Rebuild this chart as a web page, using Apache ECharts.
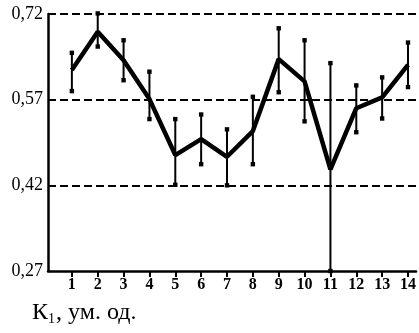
<!DOCTYPE html>
<html>
<head>
<meta charset="utf-8">
<script src="https://cdn.jsdelivr.net/npm/echarts@6/dist/echarts.min.js"></script>
<style>
  html, body { margin: 0; padding: 0; background: #fff; }
  #chart { width: 419px; height: 333px; }
</style>
</head>
<body>
<div id="chart"></div>
<script>
// Sample numbers along the x axis
const samples = [1, 2, 3, 4, 5, 6, 7, 8, 9, 10, 11, 12, 13, 14];
// Mean K1 per sample
const means = [0.622, 0.689, 0.639, 0.571, 0.473, 0.501, 0.470, 0.515, 0.641, 0.602, 0.448, 0.555, 0.574, 0.631];
// Lower / upper ends of the error bars
const lower = [0.585, 0.663, 0.604, 0.536, 0.421, 0.457, 0.420, 0.457, 0.583, 0.532, 0.270, 0.513, 0.537, 0.592];
const upper = [0.652, 0.721, 0.674, 0.619, 0.536, 0.544, 0.518, 0.575, 0.695, 0.674, 0.634, 0.595, 0.609, 0.670];
// Y axis ticks and gridlines
const yTicks = [0.27, 0.42, 0.57, 0.72];
// Axis title pieces: letter, subscript, rest
const titleMain = 'К';
const titleSub = '1';
const titleRest = ', ум. од.';

const chart = echarts.init(document.getElementById('chart'));

const serif = '"Liberation Serif", "DejaVu Serif", serif';

const meanData = samples.map((s, i) => [s, means[i]]);
const barData = samples.map((s, i) => [s, lower[i], upper[i]]);

chart.setOption({
  animation: false,
  backgroundColor: '#fff',
  grid: { left: 48, top: 14, right: 1, bottom: 62, containLabel: false },
  xAxis: {
    type: 'value',
    min: 0.077,
    max: 14.31,
    axisLine: { show: true, onZero: false, lineStyle: { color: '#000', width: 2.5 } },
    axisTick: { show: true, inside: false, length: 6, customValues: samples, lineStyle: { color: '#000', width: 2 } },
    axisLabel: {
      customValues: samples,
      color: '#000', fontFamily: serif, fontWeight: 'bold', fontSize: 16, margin: 6,
      formatter: v => String(Math.round(v))
    },
    splitLine: { show: false }
  },
  yAxis: {
    type: 'value',
    min: 0.27,
    max: 0.72,
    axisLine: { show: true, lineStyle: { color: '#000', width: 2.5 } },
    axisTick: { show: false, customValues: yTicks },
    axisLabel: {
      customValues: yTicks,
      color: '#000', fontFamily: serif, fontSize: 18, margin: 5,
      formatter: v => v.toFixed(2).replace('.', ',')
    },
    splitLine: { show: false }
  },
  graphic: [{
    type: 'text', left: 32, top: 301,
    style: {
      text: '{m|' + titleMain + '}{s|' + titleSub + '}{m|' + titleRest + '}',
      fill: '#000',
      rich: {
        m: { fontFamily: serif, fontSize: 24, color: '#000', height: 26, verticalAlign: 'bottom' },
        s: { fontFamily: serif, fontSize: 14, color: '#000', height: 14, verticalAlign: 'bottom', padding: [0, 1, 0, 0] }
      }
    }
  }],
  series: [
    {
      type: 'line',
      data: meanData,
      symbol: 'none',
      z: 3,
      lineStyle: { color: '#000', width: 4.5 },
      markLine: {
        silent: true,
        symbol: 'none',
        label: { show: false },
        lineStyle: { color: '#000', width: 2, type: [8, 4] },
        data: yTicks.slice(1).map(v => ({ yAxis: v }))
      }
    },
    {
      type: 'custom',
      data: barData,
      z: 4,
      renderItem: (params, api) => {
        const x = api.value(0);
        const lo = api.coord([x, api.value(1)]);
        const hi = api.coord([x, api.value(2)]);
        const c = 2.2;
        return {
          type: 'group',
          children: [
            { type: 'line', shape: { x1: lo[0], y1: lo[1], x2: hi[0], y2: hi[1] }, style: { stroke: '#000', lineWidth: 2 } },
            { type: 'rect', shape: { x: hi[0] - c, y: hi[1] - c, width: 2 * c, height: 2 * c }, style: { fill: '#000' } },
            { type: 'rect', shape: { x: lo[0] - c, y: lo[1] - c, width: 2 * c, height: 2 * c }, style: { fill: '#000' } }
          ]
        };
      }
    }
  ]
});
</script>
</body>
</html>
